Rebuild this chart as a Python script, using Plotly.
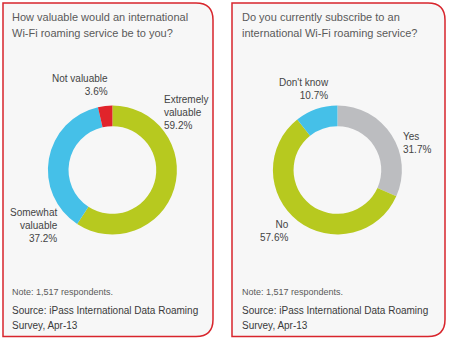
import plotly.graph_objects as go

W, H = 449, 343

# Data
q1_title = ["How valuable would an international", "Wi-Fi roaming service be to you?"]
q1_labels = ["Extremely valuable", "Somewhat valuable", "Not valuable"]
q1_values = [59.2, 37.2, 3.6]
q1_colors = ["#b7c91f", "#45c0e8", "#e1242b"]

q2_title = ["Do you currently subscribe to an", "international Wi-Fi roaming service?"]
q2_labels = ["Yes", "No", "Don't know"]
q2_values = [31.7, 57.6, 10.7]
q2_colors = ["#bcbdc0", "#b7c91f", "#45c0e8"]

note = "Note: 1,517 respondents."
source = ["Source: iPass International Data Roaming", "Survey, Apr-13"]

def px(x):
    return x / W

def py(y):
    return 1 - y / H

def domain(cx, cy, r):
    return dict(x=[px(cx - r), px(cx + r)], y=[py(cy + r), py(cy - r)])

fig = go.Figure()
for labels, values, colors, cx in [(q1_labels, q1_values, q1_colors, 112.4),
                                    (q2_labels, q2_values, q2_colors, 337.4)]:
    fig.add_trace(go.Pie(
        labels=labels, values=values, hole=0.68, sort=False,
        direction="clockwise", rotation=0,
        marker=dict(colors=colors, line=dict(width=0)),
        textinfo="none", hoverinfo="label+percent",
        domain=domain(cx, 170, 64.5), showlegend=False,
    ))

def panel_path(x0, y0, x1, y1, r):
    X0, X1 = px(x0), px(x1)
    Y0, Y1 = py(y0), py(y1)
    rx, ry = r / W, r / H
    return (f"M {X0},{Y0} L {X1 - rx},{Y0} Q {X1},{Y0} {X1},{Y0 - ry} "
            f"L {X1},{Y1 + ry} Q {X1},{Y1} {X1 - rx},{Y1} L {X0},{Y1} Z")

shapes = []
for x0, x1 in [(3, 213), (232, 445)]:
    shapes.append(dict(type="path", xref="paper", yref="paper",
                       path=panel_path(x0, 3, x1, 336.5, 17),
                       fillcolor="#f7f7f7",
                       line=dict(color="#d8252c", width=1.5), layer="below"))

FAM = "Liberation Sans, Arial, sans-serif"
title_font = dict(family=FAM, size=11, color="#5a5a5a")
lab_font = dict(family=FAM, size=10, color="#444444")
note_font = dict(family=FAM, size=9, color="#5a5a5a")
src_font = dict(family=FAM, size=10, color="#3a3a3a")

ann = []
def add(text, x, y, xa, font, align=None):
    ann.append(dict(text=text, x=px(x), y=py(y), xref="paper", yref="paper",
                    xanchor=xa, yanchor="middle", showarrow=False, font=font,
                    align=align or xa))

# titles
for i, line in enumerate(q1_title):
    add(line, 10, 17.5 + 16 * i, "left", title_font)
for i, line in enumerate(q2_title):
    add(line, 240, 17.5 + 16 * i, "left", title_font)
# slice labels
add(f"Not valuable<br>{q1_values[2]}%", 110, 85.5, "right", lab_font)
add(f"Extremely<br>valuable<br>{q1_values[0]}%", 162, 112.5, "left", lab_font)
add(f"Somewhat<br>valuable<br>{q1_values[1]}%", 60, 225, "right", lab_font)
add(f"Don't know<br>{q2_values[2]}%", 331, 89, "right", lab_font)
add(f"Yes<br>{q2_values[0]}%", 401, 142.5, "left", lab_font)
add(f"No<br>{q2_values[1]}%", 291, 230.5, "right", lab_font)
# notes and sources
for x in (10, 240):
    add(note, x, 292, "left", note_font)
    for i, line in enumerate(source):
        add(line, x, 310 + 15 * i, "left", src_font)

fig.update_layout(width=W, height=H, margin=dict(l=0, r=0, t=0, b=0),
                  paper_bgcolor="white", plot_bgcolor="white",
                  shapes=shapes, annotations=ann)
fig.write_html("out.html")
